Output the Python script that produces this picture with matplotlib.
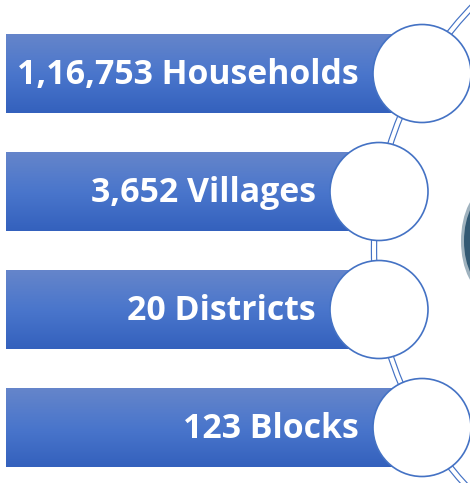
import numpy as np
import matplotlib
matplotlib.use("Agg")
import matplotlib.pyplot as plt
from matplotlib.patches import Circle, Ellipse
from matplotlib.colors import LinearSegmentedColormap

# numbers shown on the bars
values = ["1,16,753", "3,652", "20", "123"]
labels = ["Households", "Villages", "Districts", "Blocks"]

# layout (pixels)
bar_top = [34, 152, 270, 388]
bar_h = 79
circ_x = [422, 379, 379, 422]
circ_r = 49
blue = "#4472c4"

fig = plt.figure(figsize=(4.7, 4.83), dpi=100)
ax = fig.add_axes([0, 0, 1, 1])
ax.set_xlim(0, 470)
ax.set_ylim(483, 0)
ax.axis("off")

grad = LinearSegmentedColormap.from_list("bar", ["#6585ca", "#4a76cc", "#3461bd"])
g = np.linspace(0, 1, 100).reshape(-1, 1)

# big connecting arc (double line)
arc_c = (723, 249.5)
arc_r = 349
ax.add_patch(Circle(arc_c, arc_r, fill=False, ec=blue, lw=4.6, zorder=1))
ax.add_patch(Circle(arc_c, arc_r, fill=False, ec="white", lw=2.9, zorder=1.1))

# dark photo fragment at right edge
ax.add_patch(Ellipse((488, 241), 54, 104, fc="#2a5470", ec="none", alpha=0.45, zorder=0.5))
ax.add_patch(Ellipse((490, 241), 52, 96, fc="#1f4a66", ec="none", alpha=0.85, zorder=0.6))

for i in range(len(values)):
    y0 = bar_top[i]
    cy = y0 + bar_h / 2
    cx = circ_x[i]
    ax.imshow(g, cmap=grad, aspect="auto", extent=(6, cx, y0 + bar_h, y0), zorder=2)
    ax.add_patch(Circle((cx, cy), circ_r, fc="white", ec=blue, lw=1.2, zorder=3))
    ax.text(cx - circ_r - 14, cy + 1, values[i] + " " + labels[i], color="white",
            fontsize=24.4, fontweight="bold", family="Open Sans",
            ha="right", va="center", zorder=4)

ax.set_xlim(0, 470)
ax.set_ylim(483, 0)
fig.savefig("out.png", dpi=100)
